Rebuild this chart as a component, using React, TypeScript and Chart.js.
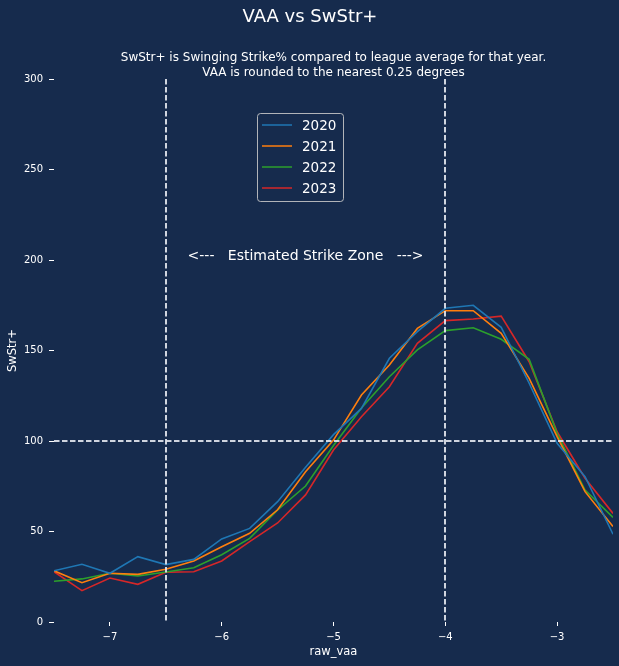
import React, { useEffect, useRef } from "react";
import { Chart, registerables } from "chart.js";

Chart.register(...registerables);

const vaa = [-7.5, -7.25, -7, -6.75, -6.5, -6.25, -6, -5.75, -5.5, -5.25, -5, -4.75, -4.5, -4.25, -4, -3.75, -3.5, -3.25, -3, -2.75, -2.5];
const years = ["2020", "2021", "2022", "2023"];
const s2020 = [28.3, 31.9, 26.9, 36.1, 31.7, 34.6, 45.9, 51.7, 66.5, 85.5, 103.5, 118, 145.7, 160.4, 173.3, 175, 162.8, 131.9, 98.7, 80.3, 48.5];
const s2021 = [28.3, 21.7, 26.9, 26.3, 29.1, 33.7, 41.6, 49, 62, 83, 100.5, 125.4, 142, 162.2, 172, 172, 159.5, 134.6, 102.4, 72, 52.7];
const s2022 = [22.5, 23.8, 26.9, 25.4, 27.6, 30, 37.2, 46.2, 61.9, 75.1, 97.5, 118.2, 135.5, 150.3, 161, 162.6, 156.2, 145.1, 104.2, 72.9, 57.8];
const s2023 = [27.8, 17.3, 24.3, 20.8, 27.5, 27.8, 33.7, 44.4, 54.7, 70.2, 95, 113.4, 130, 154, 166.5, 167.4, 169, 143.8, 105.1, 79.4, 60];
const seriesValues = [s2020, s2021, s2022, s2023];
const colors = ["#1f77b4", "#ff7f0e", "#2ca02c", "#d62728"];
const xTicks = [-7, -6, -5, -4, -3];
const yTicks = [0, 50, 100, 150, 200, 250, 300];
const zoneEdges = [-6.5, -4];
const leagueAvg = 100;
const zoneLabel = "<---   Estimated Strike Zone   --->";
const zoneLabelPos = { x: -5.25, y: 202 };
const titleText = "VAA vs SwStr+";
const subtitleLines = [
  "SwStr+ is Swinging Strike% compared to league average for that year.",
  "VAA is rounded to the nearest 0.25 degrees",
];
const xLabel = "raw_vaa";
const yLabel = "SwStr+";

const BG = "#162b4d";
const FONT = "'DejaVu Sans', sans-serif";
const DASH_COLOR = "rgba(225,228,235,0.92)";

export default function App() {
  const ref = useRef<HTMLCanvasElement | null>(null);

  useEffect(() => {
    document.body.style.margin = "0";
    document.body.style.background = BG;
    const canvas = ref.current;
    if (!canvas) return;

    const decor = {
      id: "decor",
      beforeDraw(chart: any) {
        const ctx = chart.ctx;
        ctx.save();
        ctx.fillStyle = BG;
        ctx.fillRect(0, 0, chart.width, chart.height);
        ctx.restore();
      },
      afterDatasetsDraw(chart: any) {
        const ctx = chart.ctx;
        const xs = chart.scales.x;
        const ys = chart.scales.y;
        const area = chart.chartArea;
        ctx.save();
        ctx.strokeStyle = DASH_COLOR;
        ctx.lineWidth = 2;
        ctx.setLineDash([5.5, 2.5]);
        zoneEdges.forEach((v) => {
          const px = Math.round(xs.getPixelForValue(v));
          ctx.beginPath();
          ctx.moveTo(px, area.top);
          ctx.lineTo(px, area.bottom);
          ctx.stroke();
        });
        const py = Math.round(ys.getPixelForValue(leagueAvg));
        ctx.beginPath();
        ctx.moveTo(area.left, py);
        ctx.lineTo(area.right, py);
        ctx.stroke();
        ctx.setLineDash([]);

        // annotation
        ctx.fillStyle = "#ffffff";
        ctx.font = `14px ${FONT}`;
        ctx.textAlign = "center";
        ctx.textBaseline = "middle";
        ctx.fillText(zoneLabel, xs.getPixelForValue(zoneLabelPos.x), ys.getPixelForValue(zoneLabelPos.y));

        // legend
        const lx = 257.5, ly = 113.5, lw = 86, lh = 88;
        ctx.beginPath();
        (ctx as any).roundRect(lx, ly, lw, lh, 3);
        ctx.fillStyle = BG;
        ctx.fill();
        ctx.strokeStyle = "rgba(204,204,204,0.85)";
        ctx.lineWidth = 1;
        ctx.stroke();
        ctx.font = `13.5px ${FONT}`;
        ctx.textAlign = "left";
        years.forEach((yr, i) => {
          const yy = 125 + i * 21;
          ctx.strokeStyle = colors[i];
          ctx.lineWidth = 1.5;
          ctx.beginPath();
          ctx.moveTo(262, yy);
          ctx.lineTo(292, yy);
          ctx.stroke();
          ctx.fillStyle = "#ffffff";
          ctx.fillText(yr, 302, yy + 1);
        });

        // titles
        ctx.fillStyle = "#ffffff";
        ctx.textAlign = "center";
        ctx.font = `18px ${FONT}`;
        ctx.fillText(titleText, chart.width / 2 + 0.5, 17);
        ctx.font = `12px ${FONT}`;
        const cx = (area.left + area.right) / 2;
        subtitleLines.forEach((l, i) => ctx.fillText(l, cx, 57.5 + i * 15));
        ctx.font = `11.5px ${FONT}`;
        ctx.fillText(xLabel, cx, 652);
        ctx.save();
        ctx.translate(13.5, (area.top + area.bottom) / 2);
        ctx.rotate(-Math.PI / 2);
        ctx.fillText(yLabel, 0, 0);
        ctx.restore();
        ctx.restore();
      },
    };

    const chart = new Chart(canvas, {
      type: "line",
      data: {
        datasets: years.map((yr, i) => ({
          label: yr,
          data: vaa.map((x, j) => ({ x, y: seriesValues[i][j] })),
          borderColor: colors[i],
          backgroundColor: colors[i],
          borderWidth: 1.6,
          pointRadius: 0,
          tension: 0,
          fill: false,
        })),
      },
      options: {
        animation: false,
        responsive: false,
        devicePixelRatio: 1,
        layout: { padding: { top: 79, right: 6, left: 0, bottom: 0 } },
        plugins: {
          legend: { display: false },
          title: { display: false },
          tooltip: { enabled: false },
        },
        scales: {
          x: {
            type: "linear",
            min: -7.5,
            max: -2.5,
            afterFit: (s: any) => { s.height = 44; },
            afterBuildTicks: (s: any) => { s.ticks = xTicks.map((v) => ({ value: v })); },
            ticks: {
              color: "#ffffff",
              font: { family: FONT, size: 10 },
              padding: 5,
              maxRotation: 0,
              autoSkip: false,
              callback: (v: any) => String(v).replace("-", "\u2212"),
            },
            grid: { drawOnChartArea: false, drawTicks: true, tickLength: 4, color: "#ffffff", tickWidth: 1 },
            border: { display: false },
          },
          y: {
            min: 0,
            max: 300,
            afterFit: (s: any) => { s.width = 54; },
            afterBuildTicks: (s: any) => { s.ticks = yTicks.map((v) => ({ value: v })); },
            ticks: {
              color: "#ffffff",
              font: { family: FONT, size: 10 },
              padding: 6,
            },
            grid: { drawOnChartArea: false, drawTicks: true, tickLength: 5, color: "#ffffff", tickWidth: 1 },
            border: { display: false },
          },
        },
      },
      plugins: [decor],
    } as any);

    return () => chart.destroy();
  }, []);

  return (
    <div style={{ width: 619, height: 666, background: BG }}>
      <canvas ref={ref} width={619} height={666} style={{ display: "block", width: 619, height: 666 }} />
    </div>
  );
}
